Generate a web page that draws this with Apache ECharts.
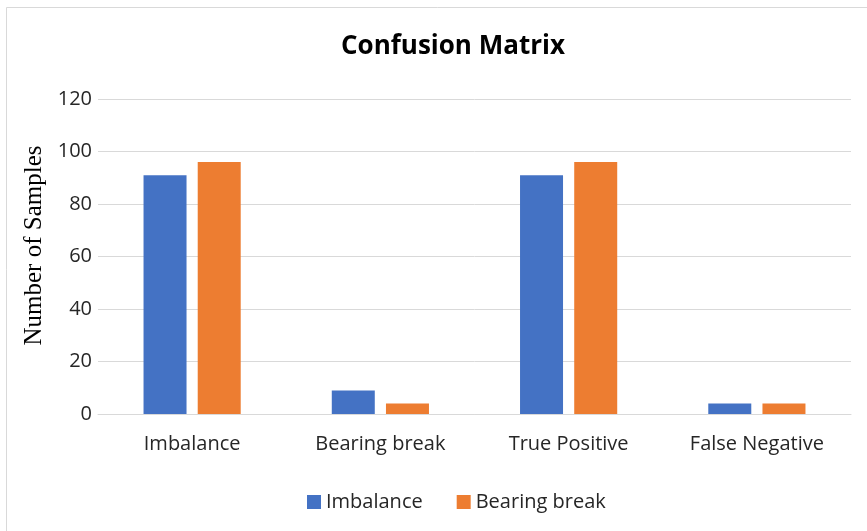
<!DOCTYPE html>
<html lang="en">
<head>
    <meta charset="UTF-8"/>
    <title>Confusion Matrix</title>
    <script src="https://cdn.jsdelivr.net/npm/echarts@6/dist/echarts.min.js"></script>
    <style>
        html, body { margin: 0; padding: 0; background: #fff; }
    </style>
</head>
<body>
<div id="main" style="width: 867px;height:531px;"></div>
<script type="text/javascript">
    // data
    var categories = ['Imbalance', 'Bearing break', 'True Positive', 'False Negative'];
    var imbalance = [91, 9, 91, 4];
    var bearingBreak = [96, 4, 96, 4];
    var yTicks = [0, 20, 40, 60, 80, 100, 120];

    var myChart = echarts.init(document.getElementById('main'));

    var option = {
        animation: false,
        backgroundColor: '#fff',
        graphic: [{
            type: 'rect',
            shape: { x: 6.5, y: 7.5, width: 880, height: 540 },
            style: { fill: 'none', stroke: '#d9d9d9', lineWidth: 1 },
            silent: true
        }],
        title: {
            text: 'Confusion Matrix',
            left: 448,
            textAlign: 'center',
            top: 29,
            textStyle: {
                fontFamily: 'Open Sans',
                fontWeight: 'bold',
                fontSize: 26,
                color: '#000'
            }
        },
        legend: {
            top: 487,
            left: 302,
            icon: 'rect',
            itemWidth: 14,
            itemHeight: 14,
            itemGap: 34,
            textStyle: { fontFamily: 'Open Sans', fontSize: 20, color: '#262626' },
            data: ['Imbalance', 'Bearing break']
        },
        grid: { left: 98, right: 16, top: 99, bottom: 117 },
        xAxis: {
            type: 'category',
            data: categories,
            axisTick: { show: false },
            axisLine: { lineStyle: { color: '#d9d9d9', width: 1 } },
            axisLabel: {
                margin: 20,
                fontFamily: 'Open Sans',
                fontSize: 20,
                color: '#262626'
            }
        },
        yAxis: {
            type: 'value',
            min: yTicks[0],
            max: yTicks[yTicks.length - 1],
            interval: yTicks[1] - yTicks[0],
            name: 'Number of Samples',
            nameLocation: 'middle',
            nameGap: 50,
            nameTextStyle: {
                fontFamily: 'Liberation Serif',
                fontSize: 25,
                color: '#000',
                padding: [0, 0, 0, 22]
            },
            axisLine: { show: false },
            axisTick: { show: false },
            axisLabel: {
                margin: 6,
                fontFamily: 'Open Sans',
                fontSize: 20,
                color: '#262626'
            },
            splitLine: { lineStyle: { color: '#d9d9d9', width: 1 } }
        },
        series: [
            {
                name: 'Imbalance',
                type: 'bar',
                data: imbalance,
                barWidth: 43,
                barGap: '26%',
                itemStyle: { color: '#4472C4' }
            },
            {
                name: 'Bearing break',
                type: 'bar',
                data: bearingBreak,
                barWidth: 43,
                barGap: '26%',
                itemStyle: { color: '#ED7D31' }
            }
        ]
    };

    myChart.setOption(option);
</script>
</body>
</html>
